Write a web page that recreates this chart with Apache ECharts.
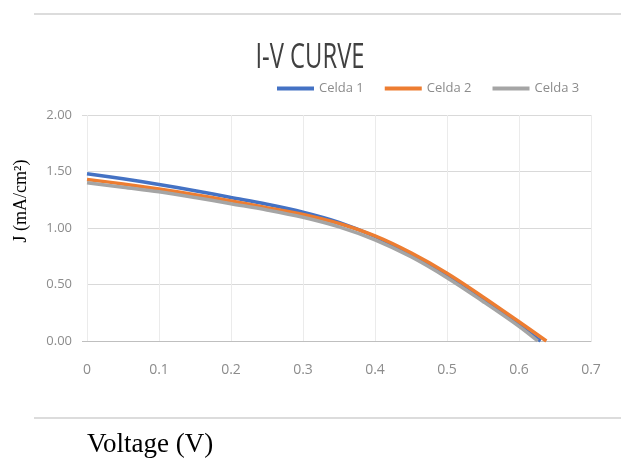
<!DOCTYPE html>
<html><head><meta charset="utf-8">
<script src="https://cdn.jsdelivr.net/npm/echarts@6/dist/echarts.min.js"></script>
<style>html,body{margin:0;padding:0;background:#fff}#c{width:621px;height:459px}</style>
</head><body><div id="c"></div>
<script>
const seriesNames = ['Celda 1', 'Celda 2', 'Celda 3'];
const celda1 = [[0,1.48],[0.05,1.435],[0.1,1.385],[0.15,1.33],[0.2,1.27],[0.25,1.21],[0.3,1.14],[0.35,1.05],[0.4,0.925],[0.45,0.765],[0.5,0.57],[0.55,0.36],[0.6,0.14],[0.63,0]];
const celda2 = [[0,1.43],[0.05,1.39],[0.1,1.345],[0.15,1.295],[0.2,1.24],[0.25,1.18],[0.3,1.12],[0.35,1.04],[0.4,0.93],[0.45,0.78],[0.5,0.60],[0.55,0.39],[0.6,0.17],[0.638,0]];
const celda3 = [[0,1.40],[0.05,1.36],[0.1,1.32],[0.15,1.27],[0.2,1.215],[0.25,1.16],[0.3,1.095],[0.35,1.01],[0.4,0.895],[0.45,0.745],[0.5,0.56],[0.55,0.35],[0.6,0.13],[0.626,0]];
const colors = ['#4472C4', '#ED7D31', '#A5A5A5'];
const titleText = 'I-V CURVE';
const yName = 'J (mA/cm²)';
const xName = 'Voltage (V)';

const sans = '"Open Sans", "Liberation Sans", sans-serif';
const chart = echarts.init(document.getElementById('c'), null, {renderer: 'canvas'});
const data = [celda1, celda2, celda3];
chart.setOption({
  animation: false,
  color: colors,
  legend: {
    data: seriesNames.map(n => ({name: n, icon: 'rect'})),
    left: 277, top: 82, padding: 0, itemWidth: 37, itemHeight: 4, itemGap: 21,
    textStyle: {fontFamily: sans, fontSize: 13, color: '#8c8c8c', width: 54}
  },
  grid: {left: 87, right: 30, top: 115, bottom: 118},
  xAxis: {
    type: 'value', min: 0, max: 0.7, interval: 0.1,
    axisLine: {show: true, onZero: true, lineStyle: {color: '#bfbfbf', width: 1}},
    axisTick: {show: false},
    axisLabel: {fontFamily: sans, fontSize: 14, color: '#8c8c8c', margin: 22,
      formatter: v => (Math.round(v * 10) / 10).toString()},
    splitLine: {show: true, lineStyle: {color: '#ebebeb', width: 1}}
  },
  yAxis: {
    type: 'value', min: 0, max: 2, interval: 0.5,
    axisLine: {show: false}, axisTick: {show: false},
    axisLabel: {fontFamily: sans, fontSize: 13, color: '#8c8c8c', margin: 15,
      formatter: v => v.toFixed(2)},
    splitLine: {show: true, lineStyle: {color: '#d9d9d9', width: 1}}
  },
  graphic: [
    {type: 'line', shape: {x1: 34, y1: 14, x2: 621, y2: 14}, style: {stroke: '#dcdcdc', lineWidth: 2}},
    {type: 'line', shape: {x1: 34, y1: 418, x2: 621, y2: 418}, style: {stroke: '#dcdcdc', lineWidth: 2}},
    {type: 'line', shape: {x1: 82, y1: 341.5, x2: 87, y2: 341.5}, style: {stroke: '#bfbfbf', lineWidth: 1}},
    {type: 'line', shape: {x1: 82, y1: 115.5, x2: 87, y2: 115.5}, style: {stroke: '#d9d9d9', lineWidth: 1}},
    {type: 'text', x: 310, y: 58, scaleX: 0.68, scaleY: 1,
      style: {text: titleText, font: '35px "Open Sans", sans-serif', fill: '#404040', align: 'center', verticalAlign: 'middle'}},
    {type: 'text', x: 21, y: 201, rotation: Math.PI / 2,
      style: {text: yName, font: '18px "Liberation Serif", "DejaVu Serif", serif', fill: '#000', align: 'center', verticalAlign: 'middle'}},
    {type: 'text', x: 87, y: 445,
      style: {text: xName, font: '27px "Liberation Serif", "DejaVu Serif", serif', fill: '#000', align: 'left', verticalAlign: 'middle'}}
  ],
  series: data.map((d, i) => ({
    name: seriesNames[i], type: 'line', data: d, smooth: 0.35, showSymbol: false,
    lineStyle: {width: 3.5, color: colors[i]}
  }))
});
</script>
</body></html>
